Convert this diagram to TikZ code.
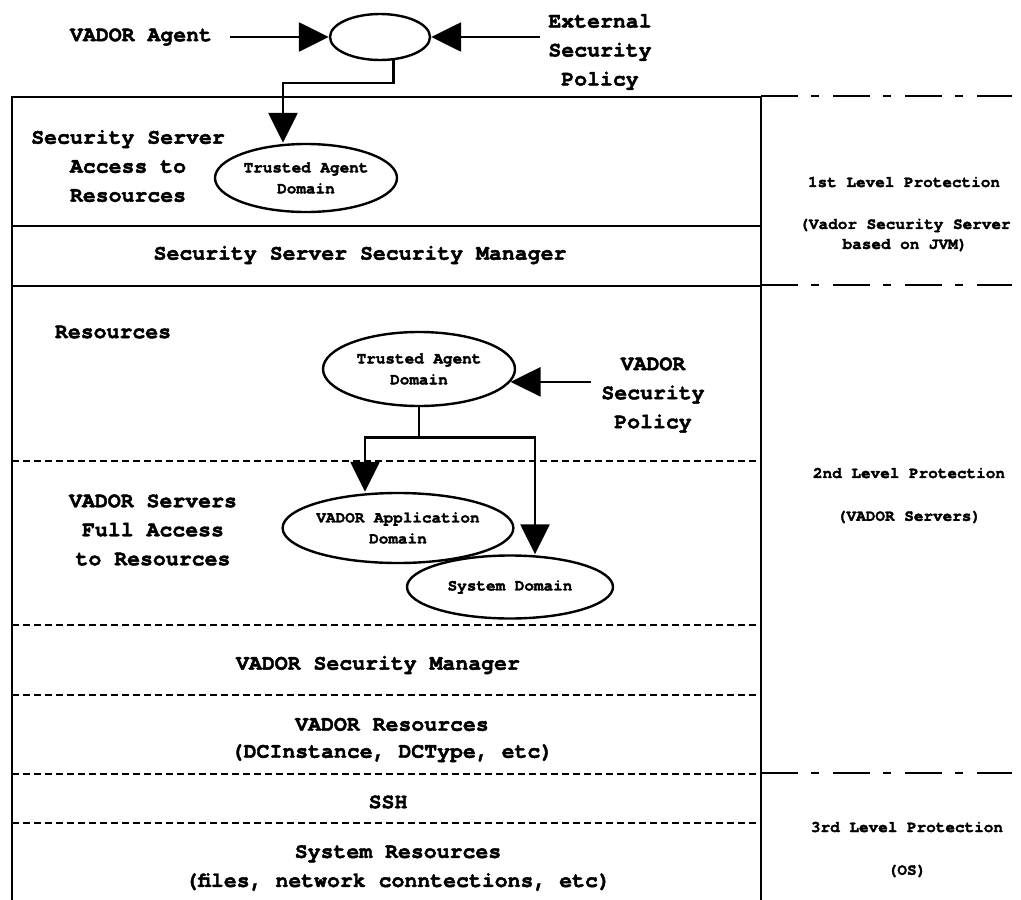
\documentclass[tikz,border=0pt]{standalone}
\usepackage{fontspec}
\newfontfamily\cour{TeX Gyre Cursor}[BoldFeatures={FakeBold=2}]
\usetikzlibrary{shapes.geometric, arrows.meta}

\tikzset{
  big/.style={font=\cour\bfseries\fontsize{21.5}{29}\selectfont, align=center, inner sep=0pt},
  small/.style={font=\cour\bfseries\fontsize{16}{21}\selectfont, align=center, inner sep=0pt},
  ell/.style={ellipse, draw, line width=2.4pt, inner sep=0pt, small},
  solidline/.style={line width=2.8pt},
  dotline/.style={line width=2.8pt, dash pattern=on 7pt off 4pt},
  dashdot/.style={line width=2.8pt, dash pattern=on 37pt off 13pt on 8pt off 14pt},
  link/.style={line width=2.6pt},
  arr/.style={link, -{Triangle[length=30pt,width=29pt]}},
}

\begin{document}
\begin{tikzpicture}[x=1pt,y=-1pt]
\fill[white] (0,0) rectangle (1021,900);
\useasboundingbox (0,0) rectangle (1021,900);

% outer frame of the protection stack
\coordinate (tl) at (12,97);
\coordinate (tr) at (761,97);
\coordinate (bl) at (12,902);
\coordinate (br) at (761,902);
\draw[solidline] (bl) -- (tl) -- (tr) -- (br);

% layer boundaries
\draw[solidline] (12,226) -- (761,226);
\draw[solidline] (12,286) -- (761,286);
\foreach \y in {461,625,695,774,823}
  \draw[dotline] (12,\y) -- (761,\y);

% protection level separators
\foreach \y in {96,285,773}
  \draw[dashdot] (761,\y) -- (1012,\y);

% entry point
\node[ell, minimum width=100pt, minimum height=46pt] (agent) at (380,37) {};
\node[big] (va) at (141,37) {VADOR Agent};
\node[big] (esp) at (600,52) {External\\Security\\Policy};
\coordinate (espin) at (540,37);
\draw[arr, shorten <=18pt] (va.east) -- (agent.west);
\draw[arr] (espin) -- (agent.east);

% 1st level
\node[ell, minimum width=182pt, minimum height=68pt] (tad1) at (306,178) {Trusted Agent\\Domain};
\coordinate (k1) at (283,83);
\draw[arr] (agent.300) |- (k1) -- (k1 |- tad1.north);
\node[big] (ssar) at (128,166) {Security Server\\Access to\\Resources};
\node[big] (sssm) at (360,255) {Security Server Security Manager};
\node[small] (l1) at (904,182) {1st Level Protection};
\node[small, font=\cour\bfseries\fontsize{16}{20}\selectfont] (l1b) at (905,235) {(Vador Security Server\\based on JVM)};

% 2nd level
\node[big] (res) at (113,332) {Resources};
\node[ell, minimum width=192pt, minimum height=74pt] (tad2) at (419,369) {Trusted Agent\\Domain};
\node[big] (vsp) at (653,395) {VADOR\\Security\\Policy};
\path (tad2.-8) -- ++(80,0) coordinate (vspin);
\draw[arr] (vspin) -- (tad2.-8);

\node[big] (vsf) at (153,530) {VADOR Servers\\Full Access\\to Resources};
\node[ell, minimum width=226pt, minimum height=70pt] (vad) at (398,528) {VADOR Application\\Domain};
\node[ell, minimum width=206pt, minimum height=63pt] (sys) at (510,587) {System Domain};
\draw[link] (tad2.south) -- ++(0,30) coordinate (fork);
\draw[arr] (fork) -| ([xshift=-33pt]vad.north);
\draw[arr] (fork) -| ([xshift=25pt]sys.north);

\node[small] (l2) at (909,473) {2nd Level Protection};
\node[small] (l2b) at (909,517) {(VADOR Servers)};

\node[big] (vsm) at (378,665) {VADOR Security Manager};
\node[big, font=\cour\bfseries\fontsize{21.5}{27}\selectfont] (vres) at (392,740) {VADOR Resources\\(DCInstance, DCType, etc)};

% 3rd level
\node[big] (ssh) at (388,802) {SSH};
\node[big] (sres) at (398,868) {System Resources\\(files, network conntections, etc)};
\node[small] (l3) at (907,827) {3rd Level Protection};
\node[small] (l3b) at (907,871) {(OS)};
\end{tikzpicture}
\end{document}
